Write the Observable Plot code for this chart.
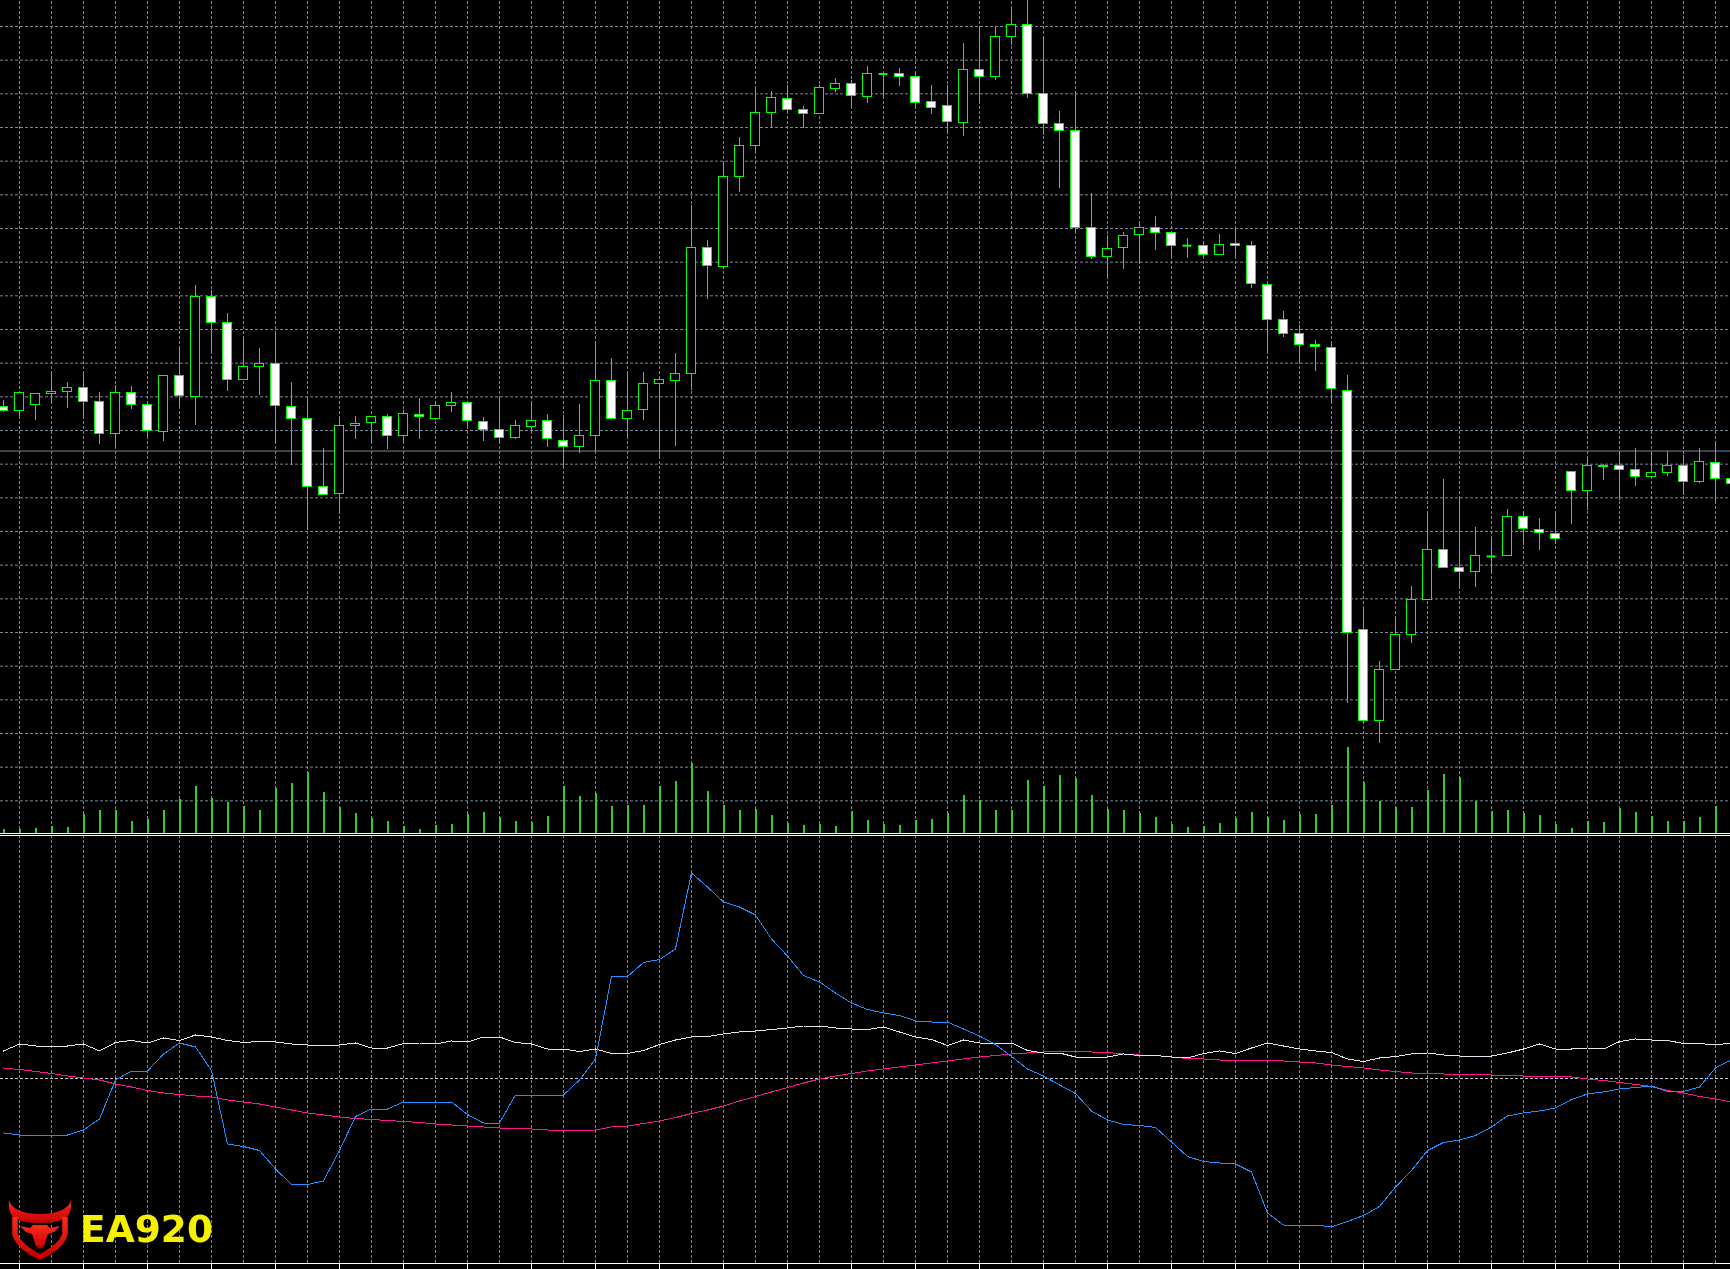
<!DOCTYPE html>
<html>
<head>
<meta charset="utf-8">
<script src="https://cdn.jsdelivr.net/npm/d3@7"></script>
<script src="https://cdn.jsdelivr.net/npm/@observablehq/plot@0.6"></script>
<style>
  html, body { margin: 0; padding: 0; background: #000; }
  #chart { position: relative; width: 1730px; height: 1269px; background: #000; overflow: hidden; }
  #chart > .layer { position: absolute; left: 0; }
  #chart svg { display: block; }
</style>
</head>
<body>
<div id="chart"></div>
<script>
// ---------- price candles (one per bar, left to right) ----------
const open = [2027.0, 2025.8, 2027.5, 2030.9, 2031.5, 2032.7, 2028.5, 2019.0, 2031.2, 2027.6,
  2019.6, 2036.2, 2030.0, 2059.7, 2052.0, 2035.0, 2038.8, 2039.8, 2027.0, 2023.5,
  2003.2, 2001.2, 2021.4, 2022.3, 2024.1, 2018.4, 2024.7, 2023.3, 2027.3, 2028.2,
  2022.6, 2020.2, 2017.7, 2021.1, 2022.9, 2016.9, 2015.0, 2018.4, 2034.8, 2023.3,
  2026.0, 2033.9, 2034.6, 2036.8, 2074.3, 2068.6, 2095.3, 2104.5, 2114.3, 2118.5,
  2115.2, 2114.0, 2121.5, 2123.0, 2119.0, 2125.9, 2125.9, 2125.0, 2117.6, 2116.4,
  2111.3, 2127.1, 2125.0, 2136.8, 2140.5, 2120.0, 2111.1, 2109.0, 2080.1, 2071.5,
  2074.3, 2078.1, 2080.2, 2078.7, 2074.9, 2074.8, 2072.2, 2075.4, 2074.8, 2063.3,
  2052.9, 2048.7, 2045.4, 2044.6, 2031.8, 1960.7, 1933.8, 1948.9, 1959.3, 1969.7,
  1984.6, 1979.2, 1978.0, 1982.6, 1982.7, 1994.4, 1990.5, 1989.3, 2007.7, 2002.0,
  2009.1, 2009.4, 2008.2, 2006.2, 2007.4, 2009.5, 2004.8, 2010.4, 2005.6];
const high = [2028.9, 2031.4, 2030.9, 2036.8, 2034.2, 2036.6, 2031.2, 2033.3, 2033.1, 2028.6,
  2036.2, 2044.3, 2063.1, 2061.6, 2054.7, 2047.2, 2044.3, 2049.4, 2034.2, 2029.9,
  2014.6, 2023.3, 2024.1, 2024.2, 2024.7, 2025.9, 2029.5, 2028.6, 2031.3, 2028.3,
  2023.8, 2029.7, 2023.0, 2027.9, 2024.7, 2024.4, 2027.7, 2046.3, 2041.4, 2036.8,
  2037.2, 2035.1, 2042.9, 2086.8, 2076.4, 2099.6, 2107.0, 2121.3, 2120.7, 2122.5,
  2116.2, 2122.5, 2124.5, 2124.1, 2128.1, 2126.0, 2127.4, 2126.2, 2122.5, 2122.5,
  2134.9, 2139.9, 2139.9, 2145.5, 2148.9, 2136.7, 2114.7, 2120.3, 2090.3, 2077.8,
  2078.7, 2081.7, 2083.5, 2078.8, 2076.9, 2076.0, 2078.2, 2079.6, 2076.0, 2063.6,
  2055.3, 2051.1, 2046.7, 2046.1, 2036.3, 1967.4, 1951.4, 1964.5, 1973.7, 1995.9,
  2005.4, 1999.4, 1991.1, 1987.6, 1996.5, 1995.9, 1993.8, 1995.9, 2007.8, 2011.6,
  2009.9, 2013.8, 2014.6, 2013.5, 2013.8, 2012.6, 2014.6, 2016.0, 2008.0];
const low = [2025.4, 2023.9, 2023.0, 2028.4, 2026.6, 2023.6, 2015.9, 2014.9, 2026.3, 2018.3,
  2016.8, 2027.2, 2021.6, 2043.4, 2031.7, 2034.8, 2030.4, 2016.5, 2009.7, 1990.3,
  2000.7, 1995.1, 2017.4, 2016.5, 2014.3, 2016.6, 2017.3, 2023.0, 2025.4, 2020.2,
  2016.8, 2016.5, 2017.3, 2019.8, 2015.0, 2008.9, 2013.3, 2013.5, 2023.2, 2018.3,
  2023.0, 2011.3, 2015.3, 2031.9, 2059.0, 2067.7, 2090.8, 2102.2, 2109.8, 2114.5,
  2109.8, 2113.9, 2120.4, 2116.3, 2117.2, 2118.3, 2122.2, 2116.3, 2113.9, 2108.6,
  2107.4, 2117.5, 2124.0, 2134.3, 2118.7, 2107.6, 2092.0, 2078.9, 2070.8, 2065.8,
  2067.9, 2069.4, 2073.5, 2071.8, 2071.2, 2071.3, 2072.1, 2071.5, 2062.3, 2043.2,
  2047.7, 2039.8, 2037.6, 2028.4, 1939.0, 1932.9, 1927.1, 1948.8, 1956.6, 1969.6,
  1979.1, 1973.5, 1973.3, 1977.4, 1982.6, 1985.8, 1984.4, 1986.2, 1992.2, 1996.2,
  2005.1, 1999.2, 2003.4, 2005.6, 2006.4, 2000.7, 2004.3, 1998.5, 2002.0];
const close = [2025.8, 2031.2, 2030.9, 2031.5, 2032.7, 2028.5, 2019.0, 2031.2, 2027.6, 2019.9,
  2036.2, 2030.2, 2059.7, 2052.0, 2035.0, 2038.9, 2039.8, 2027.3, 2023.3, 2003.2,
  2000.9, 2021.4, 2022.0, 2024.1, 2018.4, 2024.9, 2024.1, 2027.3, 2028.2, 2022.9,
  2020.2, 2017.8, 2021.4, 2022.9, 2017.5, 2015.2, 2018.4, 2034.8, 2023.3, 2025.8,
  2033.9, 2035.0, 2036.8, 2074.3, 2068.9, 2095.3, 2104.5, 2114.3, 2118.8, 2115.2,
  2114.0, 2121.8, 2123.0, 2119.4, 2125.9, 2125.9, 2124.9, 2117.3, 2115.8, 2111.7,
  2127.1, 2125.0, 2136.9, 2140.5, 2119.9, 2111.1, 2109.0, 2080.1, 2071.5, 2074.0,
  2077.8, 2080.2, 2078.7, 2074.7, 2074.9, 2072.2, 2075.1, 2074.7, 2063.6, 2052.9,
  2048.7, 2045.4, 2044.9, 2032.3, 1959.9, 1933.8, 1948.9, 1959.3, 1969.7, 1984.6,
  1979.2, 1978.0, 1982.8, 1982.6, 1994.4, 1990.8, 1989.6, 1987.8, 2002.0, 2009.5,
  2009.4, 2008.3, 2006.2, 2007.4, 2009.5, 2004.8, 2010.7, 2005.6, 2004.2];

// ---------- tick volume ----------
const volume = [200, 200, 250, 350, 300, 965, 1150, 1150, 600, 715,
  1150, 1685, 2350, 1750, 1550, 1365, 1150, 2265, 2500, 3065,
  2050, 1315, 1000, 765, 600, 350, 200, 415, 450, 965,
  1050, 785, 600, 550, 850, 2350, 1850, 1985, 1350, 1385,
  1400, 2350, 2600, 3485, 2100, 1400, 1150, 1200, 900, 500,
  400, 465, 350, 1085, 650, 465, 400, 650, 700, 1000,
  1900, 1650, 1150, 1150, 2650, 2350, 2900, 2765, 1900, 1200,
  1150, 1000, 800, 450, 300, 350, 500, 765, 1050, 800,
  650, 965, 950, 1400, 4300, 2550, 1600, 1300, 1300, 2150,
  2950, 2800, 1600, 1100, 1150, 1000, 900, 450, 250, 600,
  550, 1250, 1050, 850, 600, 600, 800, 1350, 500];

// ---------- indicator window ----------
const oscMain = [39.1, 38.7, 38.7, 38.7, 38.7, 39.7, 41.9, 49.7, 51.5, 51.5,
  54.9, 57.1, 56.3, 51.6, 36.9, 36.4, 35.6, 31.9, 28.8, 28.8,
  29.5, 35.6, 42.4, 43.9, 43.9, 45.3, 45.3, 45.3, 45.3, 42.8,
  41.1, 41.1, 46.7, 46.7, 46.7, 46.7, 49.7, 53.9, 70.4, 70.4,
  73.2, 73.8, 75.9, 91.1, 88.3, 85.3, 84.3, 82.7, 77.9, 74.5,
  70.6, 69.3, 67.1, 65.1, 63.8, 63.1, 62.6, 61.5, 61.3, 61.3,
  59.9, 58.5, 56.8, 54.4, 51.9, 50.5, 48.7, 47.0, 43.5, 41.7,
  40.8, 40.6, 40.2, 37.3, 34.4, 33.4, 33.1, 32.9, 31.3, 23.1,
  20.7, 20.7, 20.7, 20.3, 21.4, 22.6, 24.4, 28.3, 31.6, 35.6,
  37.2, 37.7, 38.6, 40.3, 42.5, 43.1, 43.5, 44.1, 45.8, 46.9,
  47.3, 47.9, 48.2, 48.5, 47.4, 47.4, 48.3, 52.1, 53.8];
const oscSignal = [55.5, 56.9, 56.5, 56.5, 56.5, 56.9, 55.5, 57.2, 57.6, 57.1,
  58.1, 57.6, 58.7, 58.3, 57.6, 57.2, 57.4, 57.3, 56.9, 56.7,
  56.5, 56.7, 57.1, 56.1, 56.1, 57.0, 57.1, 56.9, 57.5, 57.3,
  58.3, 58.3, 57.2, 56.9, 55.9, 55.9, 55.4, 55.9, 55.0, 55.0,
  55.6, 56.8, 57.7, 58.3, 58.4, 58.9, 59.3, 59.5, 59.8, 60.1,
  60.5, 60.5, 60.1, 59.9, 59.8, 60.3, 59.3, 58.3, 57.8, 56.6,
  57.7, 57.1, 57.1, 57.1, 55.6, 55.1, 55.1, 54.3, 54.2, 54.3,
  54.9, 54.6, 54.6, 54.3, 54.1, 55.0, 55.5, 55.0, 56.1, 57.1,
  56.5, 55.9, 55.5, 55.2, 53.9, 53.4, 54.1, 54.4, 54.9, 55.1,
  54.7, 54.5, 54.5, 54.5, 55.1, 55.9, 56.9, 55.9, 55.9, 56.1,
  55.9, 57.4, 57.9, 57.7, 57.6, 57.0, 57.0, 56.7, 57.1];
const oscMA = [52.1, 51.8, 51.4, 51.0, 50.5, 50.1, 49.7, 48.9, 48.3, 47.6,
  47.1, 46.8, 46.5, 46.3, 45.7, 45.3, 44.9, 44.3, 43.7, 43.1,
  42.7, 42.3, 42.0, 41.8, 41.6, 41.4, 41.2, 40.9, 40.7, 40.5,
  40.3, 40.1, 40.0, 39.9, 39.7, 39.7, 39.7, 39.7, 40.3, 40.5,
  41.0, 41.5, 42.2, 43.0, 43.7, 44.5, 45.5, 46.4, 47.3, 48.2,
  49.1, 49.9, 50.5, 51.0, 51.5, 51.9, 52.3, 52.7, 53.1, 53.5,
  53.9, 54.3, 54.6, 54.9, 55.1, 55.3, 55.4, 55.5, 55.3, 55.2,
  54.9, 54.7, 54.6, 54.3, 54.0, 53.9, 53.7, 53.7, 53.7, 53.7,
  53.5, 53.3, 53.1, 52.7, 52.4, 52.1, 51.7, 51.4, 51.1, 51.1,
  50.9, 50.9, 50.9, 50.7, 50.7, 50.5, 50.5, 50.5, 50.3, 49.9,
  49.6, 49.2, 48.8, 48.4, 47.6, 47.1, 46.4, 45.9, 45.3];

// ---------- levels / grid ----------
const priceLine = 2013.9;
const oscLevel = 50;
const gridPrices = d3.range(1910, 2141, 10);
const gridBars = d3.range(1, 109, 2);
const timeTicks = d3.range(1, 109, 4);

// ---------- build ----------
const candles = open.map((o, i) => ({i, open: o, high: high[i], low: low[i], close: close[i], volume: volume[i]}));
const bears = candles.filter(d => d.close < d.open);
const bulls = candles.filter(d => d.close > d.open);
const dojis = candles.filter(d => d.close === d.open);
const half = 0.28125;
const xScale = {type: "linear", domain: [0, 107], range: [3, 1715], axis: null};
const GRID = "#778899";
const LIME = "#00ff00";

const chart = document.getElementById("chart");
function addLayer(node, top) {
  node.classList.add("layer");
  node.style.top = top + "px";
  chart.appendChild(node);
}

// main price window
const mainPlot = Plot.plot({
  width: 1730, height: 836, margin: 0,
  style: {background: "transparent"},
  x: xScale,
  y: {domain: [1900, 2140], range: [834, 26], axis: null},
  marks: [
    Plot.ruleX(gridBars, {x: d => d, y1: 1900, y2: 2150, stroke: GRID, strokeDasharray: "3,2"}),
    Plot.ruleY(gridPrices, {stroke: GRID, strokeDasharray: "3,2"}),
    Plot.ruleY([priceLine], {stroke: GRID}),
    Plot.ruleX(candles, {x: "i", y1: "low", y2: "high", stroke: LIME, shapeRendering: "crispEdges"}),
    Plot.rect(bulls, {x1: d => d.i - half, x2: d => d.i + half, y1: "open", y2: "close", fill: "#000", stroke: LIME, shapeRendering: "crispEdges"}),
    Plot.rect(bears, {x1: d => d.i - half, x2: d => d.i + half, y1: "open", y2: "close", fill: "#fff", stroke: LIME, shapeRendering: "crispEdges"}),
    Plot.ruleY(dojis, {y: "close", x1: d => d.i - half, x2: d => d.i + half, stroke: LIME, strokeWidth: 2}),
    Plot.ruleY([1900], {stroke: "#fff", dy: -1}),
    Plot.ruleY([1900], {stroke: "#fff", dy: 1})
  ]
});
addLayer(mainPlot, 0);

// volumes (own scale, drawn over the bottom of the price window)
const volPlot = Plot.plot({
  width: 1730, height: 836, margin: 0,
  style: {background: "transparent"},
  x: xScale,
  y: {domain: [0, 5000], range: [833, 733], axis: null},
  marks: [
    Plot.ruleX(candles, {x: "i", y1: 0, y2: "volume", stroke: "#32cd32", strokeWidth: 2, shapeRendering: "crispEdges"})
  ]
});
addLayer(volPlot, 0);

// indicator window
const series = (arr) => arr.map((v, i) => ({i, v}));
const oscPlot = Plot.plot({
  width: 1730, height: 435, marginTop: 0, marginBottom: 6, marginLeft: 0, marginRight: 0,
  style: {background: "transparent"},
  x: xScale,
  y: {domain: [13, 98.8], range: [429, 0], axis: null},
  marks: [
    Plot.ruleX(gridBars, {x: d => d, y1: 13, y2: 98.4, stroke: GRID, strokeDasharray: "3,2"}),
    Plot.ruleY([oscLevel], {stroke: "#c8c8c8", strokeDasharray: "3,2"}),
    Plot.line(series(oscMA), {x: "i", y: "v", stroke: "#ff1493", strokeWidth: 1, shapeRendering: "crispEdges"}),
    Plot.line(series(oscSignal), {x: "i", y: "v", stroke: "#e6e6f2", strokeWidth: 1, shapeRendering: "crispEdges"}),
    Plot.line(series(oscMain), {x: "i", y: "v", stroke: "#1e90ff", strokeWidth: 1, shapeRendering: "crispEdges"}),
    Plot.ruleY([13], {stroke: "#fff"}),
    Plot.axisX(timeTicks, {tickSize: 6, tickFormat: () => "", stroke: "#fff", anchor: "bottom"})
  ]
});
addLayer(oscPlot, 834);

// watermark logo
const logo = document.createElementNS("http://www.w3.org/2000/svg", "svg");
logo.setAttribute("width", "240");
logo.setAttribute("height", "75");
logo.innerHTML = `
  <defs>
    <linearGradient id="lg" x1="0" y1="0" x2="0" y2="1">
      <stop offset="0" stop-color="#ff2a1a"/>
      <stop offset="1" stop-color="#c40000"/>
    </linearGradient>
    <filter id="soft" x="-20%" y="-20%" width="140%" height="140%">
      <feGaussianBlur stdDeviation="0.6"/>
    </filter>
  </defs>
  <g transform="translate(9,10)" filter="url(#soft)">
    <path d="M0,0 C3,11 18,14 31,14 C44,14 59,11 62,0 C63,10 60,15 57,18 C50,22 40,23 31,23 C22,23 12,22 5,18 C2,15 -1,10 0,0 Z" fill="url(#lg)"/>
    <path d="M6,17 L6,34 Q9,46 31,57 Q53,46 56,34 L56,17" fill="none" stroke="url(#lg)" stroke-width="5.5"/>
    <path d="M11,26 L21,28 L24,25 L38,25 L41,28 L51,26 L45,32 L39,34 L35,46 L31,49 L27,46 L23,34 L17,32 Z" fill="url(#lg)"/>
  </g>
  <text x="80" y="52" font-family="DejaVu Sans, Verdana, sans-serif" font-weight="bold" font-size="37"
        fill="#f4f000" textLength="133" lengthAdjust="spacingAndGlyphs" filter="url(#soft)">EA920</text>`;
addLayer(logo, 1190);
</script>
</body>
</html>
